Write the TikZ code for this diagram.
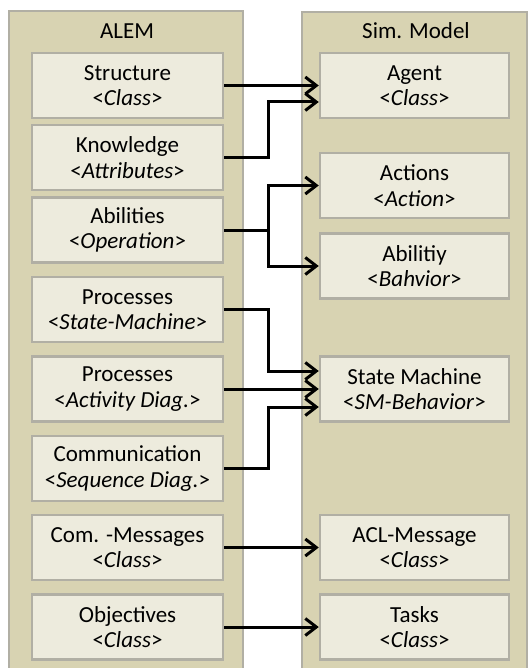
\documentclass[tikz,border=0pt]{standalone}
\usepackage{fontspec}
\setmainfont{Carlito}
\usetikzlibrary{arrows.meta}

\definecolor{panelfill}{HTML}{D8D3B2}
\definecolor{boxfill}{HTML}{EDEBDD}
\definecolor{edgegray}{HTML}{B1AFA4}

\tikzset{
  panel/.style={draw=edgegray, line width=2.5pt, fill=panelfill},
  title/.style={font=\fontsize{23}{26}\selectfont, inner sep=0pt},
  elem/.style={draw=edgegray, line width=2.5pt, fill=boxfill,
    minimum height=65pt, align=center, inner sep=0pt,
    font=\fontsize{23}{25.5}\selectfont},
  lbox/.style={elem, minimum width=191pt},
  rbox/.style={elem, minimum width=189pt},
  link/.style={line width=3pt, draw=black,
    -{Straight Barb[length=11pt,width=17pt,line width=3pt]}},
  plain/.style={line width=3pt, draw=black}
}

\begin{document}
\begin{tikzpicture}[x=1pt,y=-1pt]
  \useasboundingbox (0,0) rectangle (528,668);
  \clip (0,0) rectangle (528,668);

  % the two columns
  \draw[panel] (9,11) rectangle (243,680);
  \draw[panel] (302,12) rectangle (527,680);
  \node[title] (alem) at (127,31) {ALEM};
  \node[title] (sim) at (416,31) {Sim. Model};

  % ALEM elements
  \node[lbox] (structure) at (127.5,85.5) {Structure\\<\textit{Class}>};
  \node[lbox] (knowledge) at (127.5,157.5) {Knowledge\\<\textit{Attributes}>};
  \node[lbox] (abilities) at (127.5,230) {Abilities\\<\textit{Operation}>};
  \node[lbox] (procsm) at (127.5,309.5) {Processes\\<\textit{State-Machine}>};
  \node[lbox] (procad) at (127.5,389) {Processes\\<\textit{Activity Diag.}>};
  \node[lbox] (comm) at (127.5,468.5) {Communication\\<\textit{Sequence Diag.}>};
  \node[lbox] (commsg) at (127.5,547.5) {Com. -Messages\\<\textit{Class}>};
  \node[lbox] (objectives) at (127.5,627) {Objectives\\<\textit{Class}>};

  % simulation model elements
  \node[rbox] (agent) at (414.5,85.5) {Agent\\<\textit{Class}>};
  \node[rbox] (actions) at (414.5,185.5) {Actions\\<\textit{Action}>};
  \node[rbox] (ability) at (414.5,266) {Abilitiy\\<\textit{Bahvior}>};
  \node[rbox] (statem) at (414.5,389) {State Machine\\<\textit{SM-Behavior}>};
  \node[rbox] (aclmsg) at (414.5,547.5) {ACL-Message\\<\textit{Class}>};
  \node[rbox] (tasks) at (414.5,627) {Tasks\\<\textit{Class}>};

  % vertical routing line between the columns
  \coordinate (bus) at (268,0);

  % mappings
  \draw[link] (structure.east) -- (structure.east -| agent.west);
  \draw[link] (knowledge.east) -- (knowledge.east -| bus)
    |- ([yshift=-16.5pt]agent.west);
  \draw[plain] (abilities.east) -- (abilities.east -| bus);
  \draw[link] (abilities.east -| bus) |- (actions.west);
  \draw[link] (abilities.east -| bus) |- (ability.west);
  \draw[link] (procsm.east) -- (procsm.east -| bus)
    |- ([yshift=18pt]statem.west);
  \draw[link] (procad.east) -- (statem.west);
  \draw[link] (comm.east) -- (comm.east -| bus)
    |- ([yshift=-18pt]statem.west);
  \draw[link] (commsg.east) -- (aclmsg.west);
  \draw[link] (objectives.east) -- (tasks.west);
\end{tikzpicture}
\end{document}
